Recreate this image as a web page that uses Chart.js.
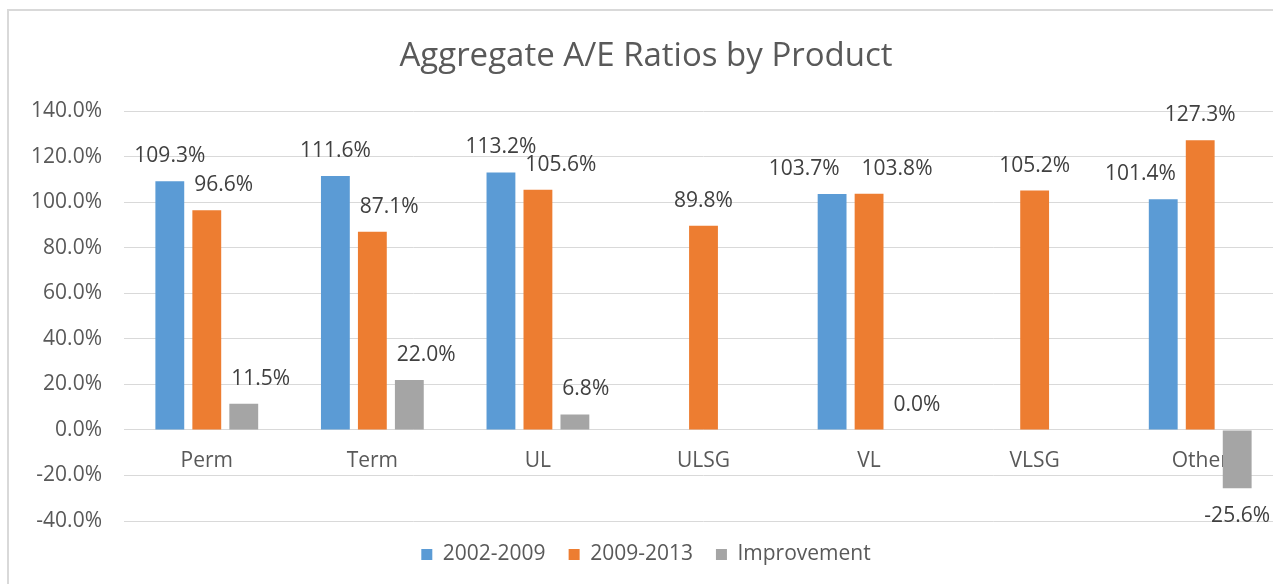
<!DOCTYPE html>
<html>
<head>
<meta charset="utf-8">
<title>Aggregate A/E Ratios by Product</title>
<script src="https://cdn.jsdelivr.net/npm/chart.js@4"></script>
<style>
html, body { margin: 0; padding: 0; background: #fff; overflow: hidden; }
#frame { position: absolute; left: 7px; top: 9px; width: 1300px; height: 600px;
         border-left: 2px solid #d9d9d9; border-top: 2px solid #d9d9d9; }
#chart { display: block; }
</style>
</head>
<body>
<div id="frame"><canvas id="chart" width="1274" height="564"></canvas></div>
<script>
const categories = ["Perm", "Term", "UL", "ULSG", "VL", "VLSG", "Other"];
const seriesNames = ["2002-2009", "2009-2013", "Improvement"];
const values0209 = [109.3, 111.6, 113.2, null, 103.7, null, 101.4];
const values0913 = [96.6, 87.1, 105.6, 89.8, 103.8, 105.2, 127.3];
const improvement = [11.5, 22.0, 6.8, null, 0.0, null, -25.6];
const yMin = -40, yMax = 140, yStep = 20;

const FONT = '"Open Sans"';
const TEXT = "#595959";
const SIZE = 21;

// value labels above / below each bar, nudged sideways like Excel does
const barLabels = {
    id: "barLabels",
    afterDatasetsDraw(chart) {
        const ctx = chart.ctx;
        ctx.save();
        ctx.font = SIZE + "px " + FONT;
        ctx.fillStyle = "#404040";
        ctx.textAlign = "center";
        ctx.textBaseline = "middle";
        categories.forEach((c, idx) => {
            const bars = [];
            const labels = [];
            chart.data.datasets.forEach((ds, di) => {
                const v = ds.data[idx];
                if (v === null) return;
                const el = chart.getDatasetMeta(di).data[idx];
                const half = el.width / 2;
                bars.push({ l: el.x - half, r: el.x + half, t: Math.min(el.y, el.base), b: Math.max(el.y, el.base), ds: di });
                const text = v.toFixed(1) + "%";
                labels.push({ text: text, x: el.x, bx: el.x, y: v >= 0 ? el.y - 25 : el.y + 28,
                              w: ctx.measureText(text).width, h: 16, ds: di });
            });
            // keep labels off the neighbouring bars
            labels.forEach(lb => {
                bars.forEach(br => {
                    if (br.ds == lb.ds) return;
                    const left = lb.x - lb.w / 2, right = lb.x + lb.w / 2;
                    const top = lb.y - lb.h / 2, bot = lb.y + lb.h / 2;
                    if (right > br.l && left < br.r && bot > br.t && top < br.b) {
                        if (br.l < lb.bx) lb.x = br.r + 10 + lb.w / 2;
                        else lb.x = br.l - 10 - lb.w / 2;
                    }
                });
            });
            // push overlapping labels apart
            for (let i = 1; i < labels.length; i++) {
                const a = labels[i - 1], b = labels[i];
                const over = (a.x + a.w / 2 + 22) - (b.x - b.w / 2);
                if (over > 0 && Math.abs(a.y - b.y) < a.h) {
                    a.x -= over / 2;
                    b.x += over / 2;
                }
            }
            labels.forEach(lb => ctx.fillText(lb.text, lb.x, lb.y));
        });
        ctx.restore();
    }
};

new Chart(document.getElementById("chart"), {
    type: "bar",
    data: {
        labels: categories,
        datasets: [
            { label: seriesNames[0], data: values0209, backgroundColor: "#5b9bd5" },
            { label: seriesNames[1], data: values0913, backgroundColor: "#ed7d31" },
            { label: seriesNames[2], data: improvement, backgroundColor: "#a5a5a5" }
        ]
    },
    options: {
        responsive: false,
        animation: false,
        layout: { padding: { top: 0, right: 0, bottom: 0, left: 0 } },
        datasets: { bar: { categoryPercentage: 0.67, barPercentage: 0.78, borderWidth: 0 } },
        plugins: {
            title: {
                display: true,
                text: "Aggregate A/E Ratios by Product",
                color: TEXT,
                font: { family: FONT, size: 33, weight: "normal" },
                padding: { top: 26, bottom: 34.8 }
            },
            legend: {
                position: "bottom",
                labels: {
                    color: TEXT,
                    font: { family: FONT, size: SIZE },
                    boxWidth: 11,
                    boxHeight: 11,
                    padding: 23
                }
            },
            tooltip: { enabled: false }
        },
        scales: {
            x: {
                position: { y: 0 },
                grid: { display: false, drawTicks: false },
                border: { display: false },
                ticks: { color: TEXT, font: { family: FONT, size: SIZE }, padding: 18 }
            },
            y: {
                min: yMin,
                max: yMax,
                grid: { color: "#d9d9d9", lineWidth: 1, drawTicks: false },
                border: { display: false },
                ticks: {
                    stepSize: yStep,
                    color: TEXT,
                    font: { family: FONT, size: SIZE },
                    padding: 22,
                    callback: v => v.toFixed(1) + "%"
                },
                afterFit: scale => { scale.width = 115; }
            }
        }
    },
    plugins: [barLabels]
});
</script>
</body>
</html>
